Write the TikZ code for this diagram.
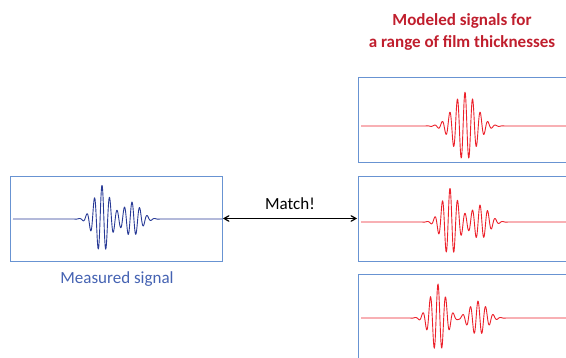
\documentclass[tikz,border=0pt]{standalone}
\usepackage{fontspec}
\setmainfont{Carlito}
\usepackage{tikz}
\usetikzlibrary{arrows}
\definecolor{boxblue}{RGB}{104,147,210}
\definecolor{sigblue}{RGB}{40,58,150}
\definecolor{textblue}{RGB}{68,98,178}
\definecolor{sigred}{RGB}{236,32,42}
\definecolor{titlered}{RGB}{192,30,45}
\tikzstyle{sigbox}=[
        draw=boxblue,
        line width=0.9pt,
        rectangle,
        minimum width=212pt,
        minimum height=85pt,
        inner sep=0pt
]
\tikzstyle{signal}=[line width=0.9pt,line join=round]
\tikzstyle{link}=[<->,>=angle 60,line width=1.2pt,shorten >=0.5pt,shorten <=0.5pt]
% #1 style, #2 x0, #3 y0, #4 c1, #5 s1, #6 c2, #7 A2
\newcommand{\pulse}[7]{%
\draw[signal,#1] plot[domain=3:212,samples=500]
  ({#2+\x},{#3-34*exp(-((\x-#4)/#5)*((\x-#4)/#5))*cos((\x-#4)/7.6*360)
   -#7*exp(-((\x-#6)/12)*((\x-#6)/12))*cos((\x-#6)/7.6*360)});}

\begin{document}
\begin{tikzpicture}[x=1pt,y=-1pt]
\useasboundingbox (0,0) rectangle (566,358);
\clip (0,0) rectangle (566,358);
\node[sigbox] (meas) at (116,218.5) {};
\node[sigbox] (mod1) at (464,119.5) {};
\node[sigbox] (mod2) at (464,218.5) {};
\node[sigbox] (mod3) at (464,317) {};
\node[text=textblue,font=\fontsize{17}{20}\selectfont] (measlbl) at (117,279) {Measured signal};
\node[text=titlered,font=\fontsize{17}{22}\selectfont\bfseries,align=center] (title) at (462,32)
  {Modeled signals for\\a range of film thicknesses};
%signals
\pulse{sigblue}{10}{219}{92}{11}{122}{17}
\pulse{sigred}{358}{126}{107}{16}{120}{0}
\pulse{sigred}{358}{222}{92}{11}{122}{17}
\pulse{sigred}{358}{318}{80}{11}{120}{17}
%arrow
\draw[link] (meas) -- (mod2) node[midway,above=5pt,font=\fontsize{17}{20}\selectfont]{Match!};
\end{tikzpicture}
\end{document}
